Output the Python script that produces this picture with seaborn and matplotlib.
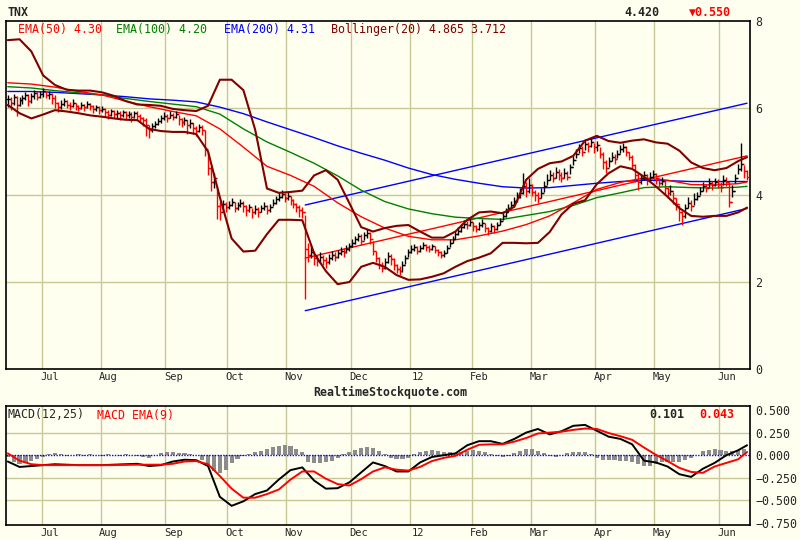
import numpy as np
import matplotlib
matplotlib.use("Agg")
import matplotlib.pyplot as plt
import seaborn as sns

BG = "#fffff0"
GRID = "#c8c896"

# daily bars, one entry per trading day (Jun .. Jun)
close = [
    6.20, 6.12, 6.25, 6.08, 6.18, 6.22, 6.30, 6.15, 6.28, 6.35, 6.26, 6.32, 6.38, 6.30, 6.33, 6.24,
    6.12, 6.02, 6.10, 6.16, 6.08, 6.05, 6.12, 6.04, 6.00, 6.08, 6.02, 6.10, 6.04, 5.98, 6.02, 5.95, 5.98,
    5.90, 5.85, 5.92, 5.86, 5.88, 5.83, 5.90, 5.84, 5.86, 5.80, 5.88, 5.82, 5.78, 5.72, 5.60, 5.50, 5.58,
    5.64, 5.70, 5.76, 5.82, 5.78, 5.85, 5.80, 5.86, 5.74, 5.68, 5.72, 5.60, 5.66, 5.55, 5.48, 5.56, 5.50,
    5.05, 4.62, 4.30, 4.40, 3.75, 3.62,
    3.80, 3.72, 3.78, 3.85, 3.70, 3.76, 3.82, 3.74, 3.66, 3.72, 3.60, 3.68, 3.62, 3.70, 3.75, 3.66, 3.72,
    3.82, 3.90, 3.96, 4.02, 3.92, 3.98, 3.88, 3.80, 3.72, 3.66, 3.60, 2.75,
    2.62, 2.70, 2.55, 2.48, 2.58, 2.50, 2.45, 2.55, 2.62, 2.58, 2.66, 2.72, 2.68, 2.76, 2.82,
    2.90, 2.98, 3.05, 2.95, 3.08, 3.12, 3.00,
    2.72, 2.55, 2.40, 2.32, 2.45, 2.60, 2.52, 2.40, 2.30, 2.25, 2.40,
    2.55, 2.68, 2.75, 2.80, 2.72, 2.78, 2.85, 2.80, 2.76, 2.82, 2.74, 2.68, 2.62, 2.66, 2.78, 2.90,
    3.00, 3.10, 3.18, 3.26, 3.34, 3.30, 3.38, 3.28, 3.22, 3.30, 3.36, 3.24, 3.18, 3.28, 3.22, 3.30,
    3.40, 3.52, 3.60, 3.70, 3.78, 3.86, 3.95, 4.05, 4.20, 4.10,
    4.22, 4.08, 4.00, 3.92, 4.05, 4.20, 4.35, 4.45, 4.40, 4.52, 4.46, 4.38, 4.50, 4.42,
    4.65, 4.80, 4.95, 5.08, 5.00, 5.18, 5.12, 5.22, 5.10, 5.15,
    4.95, 4.75, 4.62, 4.78, 4.88, 4.82, 4.95, 5.05, 5.10, 5.00,
    4.88, 4.70, 4.45, 4.30, 4.38, 4.45, 4.35, 4.42, 4.48, 4.38,
    4.28, 4.32, 4.15, 4.05, 4.10, 3.92, 3.80, 3.60, 3.52, 3.70, 3.82, 3.75, 3.90,
    3.98, 4.10, 4.20, 4.15, 4.28, 4.22, 4.30, 4.25, 4.18, 4.35, 4.30, 3.85, 4.10, 4.38, 4.60, 4.72, 4.55, 4.42,
]
high = [
    6.30, 6.26, 6.32, 6.27, 6.26, 6.30, 6.36, 6.32, 6.34, 6.42, 6.38, 6.40, 6.45, 6.40, 6.40, 6.35,
    6.30, 6.14, 6.18, 6.22, 6.18, 6.14, 6.20, 6.12, 6.08, 6.14, 6.10, 6.16, 6.12, 6.06, 6.08, 6.04, 6.05,
    6.00, 5.95, 5.98, 5.95, 5.96, 5.92, 5.96, 5.92, 5.94, 5.90, 5.94, 5.92, 5.86, 5.80, 5.76, 5.62, 5.66,
    5.70, 5.78, 5.84, 5.90, 5.86, 5.92, 5.88, 5.92, 5.84, 5.76, 5.80, 5.72, 5.74, 5.66, 5.58, 5.64, 5.60,
    5.50, 5.00, 4.65, 4.50, 4.20, 3.85,
    3.88, 3.84, 3.86, 3.92, 3.84, 3.84, 3.90, 3.86, 3.76, 3.80, 3.70, 3.76, 3.72, 3.78, 3.84, 3.76, 3.80,
    3.90, 3.98, 4.06, 4.12, 4.04, 4.06, 3.98, 3.90, 3.82, 3.76, 3.72, 3.55,
    2.90, 2.85, 2.72, 2.62, 2.68, 2.62, 2.58, 2.64, 2.72, 2.68, 2.74, 2.80, 2.78, 2.84, 2.90,
    2.98, 3.06, 3.12, 3.10, 3.16, 3.22, 3.14,
    2.95, 2.72, 2.58, 2.46, 2.55, 2.68, 2.64, 2.55, 2.42, 2.36, 2.48,
    2.62, 2.76, 2.84, 2.88, 2.82, 2.86, 2.92, 2.88, 2.84, 2.88, 2.82, 2.76, 2.72, 2.74, 2.86, 2.98,
    3.06, 3.18, 3.26, 3.34, 3.42, 3.40, 3.46, 3.38, 3.32, 3.38, 3.44, 3.36, 3.26, 3.36, 3.30, 3.38,
    3.48, 3.60, 3.70, 3.80, 3.86, 3.96, 4.06, 4.15, 4.50, 4.30,
    4.38, 4.26, 4.12, 4.06, 4.16, 4.32, 4.48, 4.58, 4.52, 4.64, 4.60, 4.52, 4.62, 4.56,
    4.72, 4.90, 5.06, 5.18, 5.12, 5.28, 5.22, 5.32, 5.20, 5.24,
    5.10, 4.98, 4.80, 4.88, 4.98, 4.94, 5.04, 5.14, 5.20, 5.12,
    5.00, 4.92, 4.72, 4.50, 4.48, 4.56, 4.48, 4.52, 4.58, 4.50,
    4.40, 4.42, 4.34, 4.18, 4.22, 4.08, 3.94, 3.76, 3.64, 3.80, 3.96, 3.88, 4.04,
    4.06, 4.18, 4.30, 4.26, 4.38, 4.32, 4.40, 4.36, 4.30, 4.46, 4.42, 4.30, 4.22, 4.48, 4.72, 5.20, 4.68, 4.58,
]
low = [
    6.02, 5.95, 6.06, 5.82, 6.04, 6.10, 6.18, 6.05, 6.12, 6.20, 6.18, 6.22, 6.26, 6.22, 6.20, 6.10,
    6.00, 5.90, 5.98, 6.04, 6.00, 5.96, 6.02, 5.96, 5.92, 5.98, 5.94, 6.00, 5.96, 5.88, 5.94, 5.86, 5.90,
    5.80, 5.74, 5.82, 5.76, 5.78, 5.72, 5.80, 5.74, 5.76, 5.68, 5.78, 5.72, 5.68, 5.58, 5.36, 5.32, 5.44,
    5.54, 5.60, 5.66, 5.72, 5.68, 5.76, 5.72, 5.76, 5.62, 5.56, 5.62, 5.40, 5.54, 5.40, 5.36, 5.44, 5.38,
    4.90, 4.45, 4.10, 4.15, 3.45, 3.42,
    3.62, 3.62, 3.68, 3.74, 3.60, 3.66, 3.72, 3.62, 3.52, 3.62, 3.48, 3.56, 3.50, 3.60, 3.66, 3.56, 3.62,
    3.74, 3.80, 3.86, 3.92, 3.84, 3.88, 3.78, 3.70, 3.62, 3.50, 3.48, 1.60,
    2.45, 2.55, 2.40, 2.36, 2.44, 2.38, 2.32, 2.42, 2.50, 2.48, 2.56, 2.62, 2.58, 2.66, 2.72,
    2.80, 2.88, 2.94, 2.86, 2.96, 3.02, 2.88,
    2.62, 2.45, 2.30, 2.22, 2.30, 2.44, 2.40, 2.28, 2.20, 2.16, 2.22,
    2.42, 2.58, 2.66, 2.72, 2.64, 2.70, 2.76, 2.72, 2.68, 2.74, 2.66, 2.60, 2.56, 2.58, 2.66, 2.80,
    2.90, 3.00, 3.08, 3.16, 3.24, 3.22, 3.28, 3.18, 3.14, 3.20, 3.26, 3.14, 3.08, 3.16, 3.12, 3.20,
    3.32, 3.42, 3.50, 3.60, 3.68, 3.76, 3.84, 3.94, 4.02, 3.96,
    4.05, 3.98, 3.86, 3.82, 3.92, 4.08, 4.22, 4.34, 4.30, 4.40, 4.34, 4.30, 4.38, 4.34,
    4.48, 4.68, 4.84, 4.96, 4.90, 5.04, 5.00, 5.10, 4.96, 5.02,
    4.85, 4.60, 4.50, 4.65, 4.78, 4.72, 4.84, 4.96, 5.00, 4.90,
    4.80, 4.62, 4.30, 4.12, 4.26, 4.34, 4.24, 4.32, 4.38, 4.26,
    4.18, 4.22, 4.02, 3.92, 4.00, 3.80, 3.66, 3.40, 3.30, 3.48, 3.70, 3.64, 3.76,
    3.88, 4.00, 4.10, 4.06, 4.18, 4.12, 4.20, 4.16, 4.06, 4.24, 4.20, 3.72, 3.96, 4.28, 4.48, 4.56, 4.40, 4.34,
]

# Bollinger(20), read every 4th trading day
band_days = list(range(0, 252, 4)) + [251]
boll_upper = [
    7.56, 7.58, 7.30, 6.75, 6.53, 6.42, 6.40, 6.40, 6.36, 6.28,
    6.16, 6.08, 6.07, 6.05, 5.98, 5.95, 5.93, 6.05, 6.65, 6.65,
    6.41, 5.50, 4.15, 4.05, 4.07, 4.10, 4.45, 4.57, 4.35, 3.81,
    3.26, 3.16, 3.24, 3.29, 3.31, 3.16, 3.02, 3.02, 3.16, 3.43,
    3.60, 3.62, 3.58, 3.73, 4.35, 4.60, 4.73, 4.77, 4.90, 5.25,
    5.36, 5.24, 5.20, 5.25, 5.28, 5.21, 5.18, 5.02, 4.75, 4.62,
    4.57, 4.62, 4.78, 4.87,
]
boll_lower = [
    6.07, 5.88, 5.76, 5.85, 5.95, 5.92, 5.88, 5.83, 5.80, 5.76,
    5.73, 5.72, 5.52, 5.47, 5.45, 5.45, 5.40, 5.00, 3.95, 3.00,
    2.70, 2.72, 3.10, 3.43, 3.43, 3.42, 2.66, 2.25, 1.95, 2.00,
    2.35, 2.44, 2.35, 2.16, 2.05, 2.06, 2.12, 2.20, 2.35, 2.48,
    2.56, 2.66, 2.90, 2.90, 2.89, 2.90, 3.15, 3.55, 3.80, 3.88,
    4.25, 4.50, 4.66, 4.60, 4.42, 4.20, 3.96, 3.70, 3.52, 3.50,
    3.52, 3.52, 3.60, 3.71,
]

# moving averages, read every 8th trading day
ema_days = list(range(0, 252, 8)) + [251]
ema50 = [6.58, 6.55, 6.48, 6.38, 6.30, 6.16, 6.03, 5.92, 5.82, 5.52,
         5.10, 4.66, 4.45, 4.20, 3.82, 3.50, 3.24, 3.05, 2.97, 2.97,
         3.06, 3.17, 3.32, 3.52, 3.82, 4.13, 4.29, 4.39, 4.34, 4.24,
         4.23, 4.26, 4.30]
ema100 = [6.49, 6.46, 6.40, 6.35, 6.30, 6.22, 6.15, 6.09, 6.03, 5.86,
          5.52, 5.22, 4.98, 4.73, 4.44, 4.11, 3.85, 3.68, 3.57, 3.49,
          3.46, 3.44, 3.53, 3.62, 3.76, 3.94, 4.05, 4.17, 4.19, 4.17,
          4.16, 4.18, 4.20]
ema200 = [6.38, 6.38, 6.36, 6.33, 6.30, 6.26, 6.21, 6.18, 6.14, 6.02,
          5.87, 5.68, 5.50, 5.32, 5.13, 4.96, 4.80, 4.62, 4.47, 4.36,
          4.27, 4.19, 4.16, 4.17, 4.22, 4.27, 4.31, 4.34, 4.33, 4.31,
          4.31, 4.31, 4.31]

# trend channel end points
channel_days = [101, 251]
channel_upper = [3.77, 6.11]
channel_mid = [2.55, 4.90]
channel_lower = [1.34, 3.69]

# MACD(12,25) and signal, every 4th day; histogram every 2nd day
macd = [-0.07, -0.13, -0.12, -0.11, -0.10, -0.105, -0.11, -0.11, -0.11, -0.105,
        -0.10, -0.095, -0.12, -0.11, -0.07, -0.05, -0.055, -0.12, -0.46, -0.56,
        -0.51, -0.43, -0.39, -0.27, -0.165, -0.135, -0.28, -0.37, -0.365, -0.30,
        -0.19, -0.08, -0.12, -0.18, -0.18, -0.08, -0.02, 0.0, 0.02, 0.11,
        0.155, 0.155, 0.125, 0.18, 0.25, 0.29, 0.23, 0.265, 0.325, 0.335,
        0.27, 0.205, 0.18, 0.12, -0.06, -0.08, -0.125, -0.21, -0.24, -0.15,
        -0.085, 0.0, 0.055, 0.11]
macd_signal = [0.02, -0.06, -0.10, -0.11, -0.11, -0.11, -0.11, -0.11, -0.11, -0.11,
               -0.107, -0.105, -0.105, -0.105, -0.095, -0.07, -0.065, -0.10, -0.23, -0.37,
               -0.47, -0.47, -0.43, -0.38, -0.27, -0.18, -0.18, -0.26, -0.32, -0.335,
               -0.265, -0.18, -0.135, -0.16, -0.17, -0.13, -0.065, -0.03, -0.007, 0.06,
               0.115, 0.12, 0.12, 0.15, 0.19, 0.24, 0.25, 0.26, 0.28, 0.295,
               0.29, 0.245, 0.21, 0.17, 0.085, 0.005, -0.065, -0.14, -0.185, -0.195,
               -0.125, -0.085, -0.045, 0.035]
macd_hist = [-0.02, -0.08, -0.10, -0.09, -0.06, -0.04,
             -0.02, 0.01, 0.02, 0.01, -0.01,
             0.0, 0.01, -0.01, 0.01, 0.0, -0.01, 0.01, 0.0, -0.01, 0.01, 0.0, -0.01, -0.02, -0.03,
             0.0, 0.02, 0.03, 0.03, 0.02, 0.02, 0.01, 0.0,
             -0.05, -0.12, -0.17, -0.20, -0.16, -0.09, -0.04, -0.01,
             0.01, 0.03, 0.05, 0.07, 0.09, 0.10, 0.11, 0.10, 0.07, 0.03,
             -0.07, -0.09, -0.09, -0.08, -0.06, -0.03,
             0.01, 0.04, 0.06, 0.08, 0.09, 0.08, 0.05, 0.01,
             -0.03, -0.04, -0.04, -0.03, 0.01,
             0.04, 0.05, 0.06, 0.05, 0.04, 0.03, 0.02, 0.03, 0.05, 0.055, 0.05, 0.04, 0.01, -0.01, -0.02, -0.01,
             0.02, 0.05, 0.065, 0.07, 0.05, 0.02, -0.01, -0.02, 0.0, 0.02, 0.03, 0.03, 0.03, 0.01,
             -0.03, -0.05, -0.05, -0.05, -0.06, -0.06, -0.08, -0.10, -0.12, -0.12, -0.10, -0.08, -0.08, -0.08,
             -0.07, -0.05, -0.03, 0.0,
             0.05, 0.06, 0.07, 0.06, 0.05, 0.05, 0.06, 0.07]

month_grid = [11.5, 31.5, 53.5, 74.5, 94.5, 116.5, 136.5, 157.5, 177.5, 199.5, 219.5, 241.5]
month_labels = ["Jul", "Aug", "Sep", "Oct", "Nov", "Dec", "12", "Feb", "Mar", "Apr", "May", "Jun"]

sns.set_theme(style="white", rc={"axes.facecolor": BG, "figure.facecolor": BG,
                                 "axes.edgecolor": "black"})
plt.rcParams["font.family"] = ["DejaVu Sans Mono", "DejaVu Sans"]

fig = plt.figure(figsize=(8, 5.4), dpi=100)
ax = fig.add_axes([6 / 800, 1 - 369 / 540, 744 / 800, 348 / 540])
ax2 = fig.add_axes([6 / 800, 1 - 525 / 540, 744 / 800, 119 / 540])

# ---- price panel ----
for m in month_grid:
    ax.axvline(m, color=GRID, lw=1.0, zorder=0)
for v in [2, 4, 6]:
    ax.axhline(v, color=GRID, lw=1.0, zorder=0)

sns.lineplot(x=channel_days, y=channel_upper, ax=ax, color="#0000ff", linewidth=1.0, legend=False)
sns.lineplot(x=channel_days, y=channel_lower, ax=ax, color="#0000ff", linewidth=1.0, legend=False)
sns.lineplot(x=channel_days, y=channel_mid, ax=ax, color="#ff0000", linewidth=1.0, legend=False)
sns.lineplot(x=ema_days, y=ema200, ax=ax, color="#0000ff", linewidth=1.0, legend=False)
sns.lineplot(x=ema_days, y=ema100, ax=ax, color="#008000", linewidth=1.0, legend=False)
sns.lineplot(x=ema_days, y=ema50, ax=ax, color="#ff0000", linewidth=1.0, legend=False)

days = np.arange(len(close))
c = np.array(close)
prev = np.r_[c[0], c[:-1]]
bar_col = np.where(c < prev, "#ff0000", "#000000")
ax.vlines(days, low, high, colors=bar_col, lw=1.0, zorder=3)
ax.hlines(prev, days - 0.75, days, colors=bar_col, lw=1.0, zorder=3)
ax.hlines(c, days, days + 0.75, colors=bar_col, lw=1.0, zorder=3)

sns.lineplot(x=band_days, y=boll_upper, ax=ax, color="#800000", linewidth=1.5, legend=False, zorder=4)
sns.lineplot(x=band_days, y=boll_lower, ax=ax, color="#800000", linewidth=1.5, legend=False, zorder=4)

ax.set_xlim(-0.6, 252)
ax.set_ylim(0, 8)
ax.set_xticks(month_grid)
ax.set_xticklabels([])
ax.set_xticks([m + 2.7 for m in month_grid], minor=True)
ax.set_xticklabels(month_labels, minor=True)
ax.tick_params(axis="x", which="both", length=0, pad=2, labelsize=7.5)
ax.set_yticks([0, 2, 4, 6, 8])
ax.yaxis.tick_right()
ax.tick_params(axis="y", length=0, pad=4, labelsize=8.4)
ax.set_xlabel("")
ax.set_ylabel("")

# ---- MACD panel ----
for m in month_grid:
    ax2.axvline(m, color=GRID, lw=1.0, zorder=0)
for v in [0.25, -0.25, -0.5]:
    ax2.axhline(v, color=GRID, lw=1.0, zorder=0)

hist_days = np.arange(len(macd_hist)) * 2
ax2.bar(hist_days, macd_hist, width=1.4, color="#8c8c8c", linewidth=0, zorder=1)
ax2.axhline(0, color="#0000ff", lw=1.0, ls=(0, (1, 1)), zorder=2)
sns.lineplot(x=band_days, y=macd, ax=ax2, color="#000000", linewidth=1.4, legend=False, zorder=3)
sns.lineplot(x=band_days, y=macd_signal, ax=ax2, color="#ff0000", linewidth=1.4, legend=False, zorder=4)

ax2.set_xlim(-0.6, 252)
ax2.set_ylim(-0.772, 0.544)
ax2.set_xticks(month_grid)
ax2.set_xticklabels([])
ax2.set_xticks([m + 2.7 for m in month_grid], minor=True)
ax2.set_xticklabels(month_labels, minor=True)
ax2.tick_params(axis="x", which="both", length=0, pad=2, labelsize=7.5)
macd_ticks = [0.5, 0.25, 0.0, -0.25, -0.5, -0.75]
ax2.set_yticks(macd_ticks)
ax2.set_yticklabels(["0.500", "0.250", "0.000", "\u22120.250", "\u22120.500", "\u22120.750"])
ax2.yaxis.tick_right()
ax2.tick_params(axis="y", length=0, pad=4, labelsize=8.4)
ax2.set_xlabel("")
ax2.set_ylabel("")

for a in (ax, ax2):
    for s in a.spines.values():
        s.set_color("black")
        s.set_linewidth(1.2)


def put(x, y, s, **kw):
    fig.text(x / 800, 1 - y / 540, s, va="center", fontsize=8.4, **kw)


put(8, 12, "TNX", weight="bold")
put(624, 12, "4.420", weight="bold")
put(689, 12, "\u25bc0.550", weight="bold", color="#ff0000")
put(18, 30, "EMA(50) 4.30", color="#ff0000")
put(116, 30, "EMA(100) 4.20", color="#008000")
put(224, 30, "EMA(200) 4.31", color="#0000ff")
put(331, 30, "Bollinger(20) 4.865 3.712", color="#800000")
put(390, 392, "RealtimeStockquote.com", weight="bold", ha="center")
put(8, 415, "MACD(12,25)")
put(97, 415, "MACD EMA(9)", color="#ff0000")
put(649, 415, "0.101", weight="bold")
put(699, 415, "0.043", weight="bold", color="#ff0000")

fig.savefig("out.png", dpi=100, facecolor=BG)
